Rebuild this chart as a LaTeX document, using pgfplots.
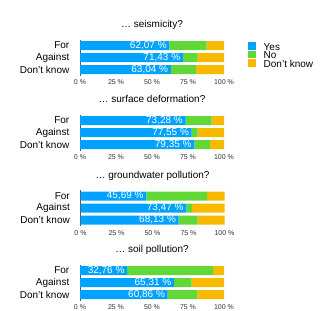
\documentclass[border=0pt]{standalone}
\usepackage{pgfplots}
\pgfplotsset{compat=1.18}
\usepackage{fontspec}
\setmainfont{Liberation Sans}
\definecolor{cYes}{HTML}{00A2FF}
\definecolor{cNo}{HTML}{61D836}
\definecolor{cDk}{HTML}{F8BA00}
\pgfplotsset{
  base/.style={
    width=144bp, height=36bp, scale only axis,
    xmin=0, xmax=100, ymin=-0.5, ymax=2.5, clip=false,
  },
  panel/.style={
    base,
    xbar stacked, bar width=9bp,
    axis y line*=left, axis x line*=bottom,
    x axis line style={draw=none},
    y axis line style={draw=black!65, line width=1bp},
    major tick length=0pt,
    xtick={0,25,50,75,100},
    xticklabels={0 \%,25 \%,50 \%,75 \%,100 \%},
    ytick={0,1,2}, yticklabels={Don't know,Against,For},
    xticklabel style={font=\fontsize{7bp}{8bp}\selectfont, text=black!80, inner sep=0pt, yshift=-4bp},
    yticklabel style={font=\fontsize{10bp}{12bp}\selectfont, inner sep=0pt, xshift=-10.5bp},
    every axis title/.style={at={(0.5,1)}, anchor=base, yshift=12bp, font=\fontsize{10bp}{12bp}\selectfont},
  },
  lbl/.style={
    base, hide axis,
    nodes near coords style={anchor=east, text=white, font=\fontsize{10bp}{12bp}\selectfont, inner sep=0pt, xshift=-2.5bp},
  },
}
\begin{document}
\begin{tikzpicture}
\useasboundingbox (0,0) rectangle (324bp,-311bp);
% Panel 1
\begin{axis}[panel, at={(80bp,-39.5bp)}, anchor=north west,
  title={… seismicity?},
  legend cell align=left,
  legend style={at={(1,1)}, anchor=north west, xshift=24bp, yshift=-2.5bp, draw=none, fill=none,
    inner sep=0pt, row sep=-1bp, column sep=7.5bp, font=\fontsize{10bp}{12bp}\selectfont,
    nodes={inner sep=0pt}, cells={anchor=base west}},
  legend image code/.code={\fill[#1, draw=none] (0bp,0.5bp) rectangle (8bp,8bp);},
]
\addplot[fill=cYes, draw=none] coordinates {(62.07,2) (71.43,1) (63.04,0)};
\addplot[fill=cNo, draw=none] coordinates {(25.86,2) (10.20,1) (17.39,0)};
\addplot[fill=cDk, draw=none] coordinates {(12.07,2) (18.37,1) (19.57,0)};
\legend{Yes,No,Don't know}
\end{axis}
\begin{axis}[lbl, at={(80bp,-39.5bp)}, anchor=north west]
\addplot[draw=none, mark=none, nodes near coords, point meta=explicit symbolic]
  coordinates {(62.07,2)[62,07 \%] (71.43,1)[71,43 \%] (63.04,0)[63,04 \%]};
\end{axis}
% Panel 2
\begin{axis}[panel, at={(80bp,-114.5bp)}, anchor=north west,
  title={… surface deformation?}]
\addplot[fill=cYes, draw=none] coordinates {(73.28,2) (77.55,1) (79.35,0)};
\addplot[fill=cNo, draw=none] coordinates {(18.10,2) (4.08,1) (10.87,0)};
\addplot[fill=cDk, draw=none] coordinates {(8.62,2) (18.37,1) (9.78,0)};
\end{axis}
\begin{axis}[lbl, at={(80bp,-114.5bp)}, anchor=north west]
\addplot[draw=none, mark=none, nodes near coords, point meta=explicit symbolic]
  coordinates {(73.28,2)[73,28 \%] (77.55,1)[77,55 \%] (79.35,0)[79,35 \%]};
\end{axis}
% Panel 3
\begin{axis}[panel, at={(80.5bp,-190bp)}, anchor=north west,
  title={… groundwater pollution?}]
\addplot[fill=cYes, draw=none] coordinates {(45.69,2) (73.47,1) (68.13,0)};
\addplot[fill=cNo, draw=none] coordinates {(42.24,2) (4.08,1) (13.19,0)};
\addplot[fill=cDk, draw=none] coordinates {(12.07,2) (22.45,1) (18.68,0)};
\end{axis}
\begin{axis}[lbl, at={(80.5bp,-190bp)}, anchor=north west]
\addplot[draw=none, mark=none, nodes near coords, point meta=explicit symbolic]
  coordinates {(45.69,2)[45,69 \%] (73.47,1)[73,47 \%] (68.13,0)[68,13 \%]};
\end{axis}
% Panel 4
\begin{axis}[panel, at={(80bp,-264.5bp)}, anchor=north west,
  title={… soil pollution?}]
\addplot[fill=cYes, draw=none] coordinates {(32.76,2) (65.31,1) (60.86,0)};
\addplot[fill=cNo, draw=none] coordinates {(59.48,2) (12.24,1) (20.65,0)};
\addplot[fill=cDk, draw=none] coordinates {(7.76,2) (22.45,1) (18.49,0)};
\end{axis}
\begin{axis}[lbl, at={(80bp,-264.5bp)}, anchor=north west]
\addplot[draw=none, mark=none, nodes near coords, point meta=explicit symbolic]
  coordinates {(32.76,2)[32,76 \%] (65.31,1)[65,31 \%] (60.86,0)[60,86 \%]};
\end{axis}
\end{tikzpicture}
\end{document}
